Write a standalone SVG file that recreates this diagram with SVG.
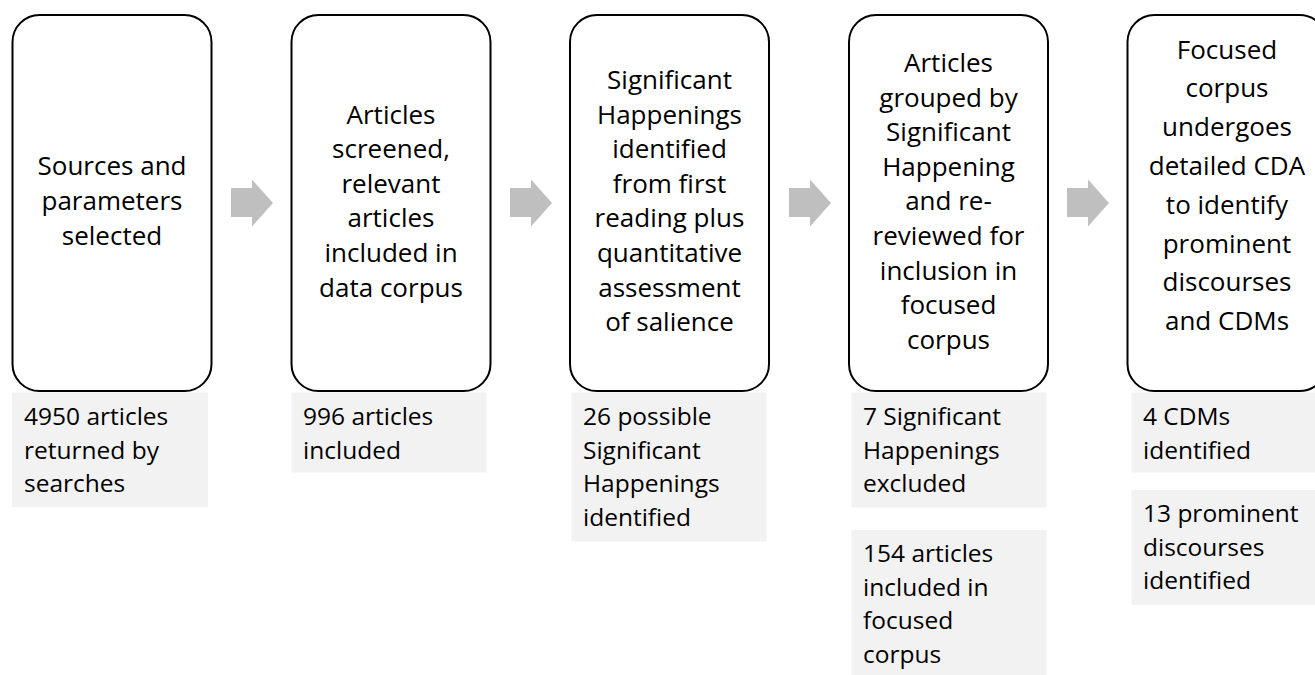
<svg xmlns="http://www.w3.org/2000/svg" width="1315" height="675" viewBox="0 0 1315 675">
<style>
  .box { fill: #ffffff; stroke: #000000; stroke-width: 2; }
  .note { fill: #f2f2f2; stroke: none; }
  .bt { font-family: "Open Sans", "Noto Sans", sans-serif; font-size: 26px; fill: #000; text-anchor: middle; }
  .nt { font-family: "Open Sans", "Noto Sans", sans-serif; font-size: 24.5px; fill: #000; }
  .arrow { fill: #bfbfbf; stroke: none; }
</style>
<rect x="0" y="0" width="1315" height="675" fill="#ffffff"/>

<g id="notes">
  <g id="note1">
    <rect class="note" x="12" y="392.5" width="196" height="114.5"/>
    <text class="nt" x="24" y="425"><tspan x="24">4950 articles</tspan><tspan x="24" dy="33.7">returned by</tspan><tspan x="24" dy="33.7">searches</tspan></text>
  </g>
  <g id="note2">
    <rect class="note" x="291.5" y="392.5" width="195" height="80"/>
    <text class="nt" x="303" y="425"><tspan x="303">996 articles</tspan><tspan x="303" dy="33.7">included</tspan></text>
  </g>
  <g id="note3">
    <rect class="note" x="571.5" y="392.5" width="195" height="149"/>
    <text class="nt" x="583" y="425"><tspan x="583">26 possible</tspan><tspan x="583" dy="33.7">Significant</tspan><tspan x="583" dy="33.7">Happenings</tspan><tspan x="583" dy="33.7">identified</tspan></text>
  </g>
  <g id="note4a">
    <rect class="note" x="851.5" y="392.5" width="195" height="115"/>
    <text class="nt" x="863" y="425"><tspan x="863">7 Significant</tspan><tspan x="863" dy="33.7">Happenings</tspan><tspan x="863" dy="33.7">excluded</tspan></text>
  </g>
  <g id="note4b">
    <rect class="note" x="851.5" y="530" width="195" height="150"/>
    <text class="nt" x="863" y="562"><tspan x="863">154 articles</tspan><tspan x="863" dy="33.7">included in</tspan><tspan x="863" dy="33.7">focused</tspan><tspan x="863" dy="33.7">corpus</tspan></text>
  </g>
  <g id="note5a">
    <rect class="note" x="1131.5" y="392.5" width="195" height="80"/>
    <text class="nt" x="1143" y="425"><tspan x="1143">4 CDMs</tspan><tspan x="1143" dy="33.7">identified</tspan></text>
  </g>
  <g id="note5b">
    <rect class="note" x="1131.5" y="490" width="195" height="115"/>
    <text class="nt" x="1143" y="522"><tspan x="1143">13 prominent</tspan><tspan x="1143" dy="33.7">discourses</tspan><tspan x="1143" dy="33.7">identified</tspan></text>
  </g>
</g>

<g id="node1">
  <rect class="box" x="12.5" y="15" width="199" height="376" rx="27" ry="27"/>
  <text class="bt" y="175.4"><tspan x="112" >Sources and</tspan><tspan x="112" dy="34.6">parameters</tspan><tspan x="112" dy="34.6">selected</tspan></text>
</g>
<g id="node2">
  <rect class="box" x="291.5" y="15" width="199" height="376" rx="27" ry="27"/>
  <text class="bt" y="123.5"><tspan x="391">Articles</tspan><tspan x="391" dy="34.6">screened,</tspan><tspan x="391" dy="34.6">relevant</tspan><tspan x="391" dy="34.6">articles</tspan><tspan x="391" dy="34.6">included in</tspan><tspan x="391" dy="34.6">data corpus</tspan></text>
</g>
<g id="node3">
  <rect class="box" x="570" y="15" width="199" height="376" rx="27" ry="27"/>
  <text class="bt" y="89"><tspan x="669.5">Significant</tspan><tspan x="669.5" dy="34.6">Happenings</tspan><tspan x="669.5" dy="34.6">identified</tspan><tspan x="669.5" dy="34.6">from first</tspan><tspan x="669.5" dy="34.6">reading plus</tspan><tspan x="669.5" dy="34.6">quantitative</tspan><tspan x="669.5" dy="34.6">assessment</tspan><tspan x="669.5" dy="34.6">of salience</tspan></text>
</g>
<g id="node4">
  <rect class="box" x="849" y="15" width="199" height="376" rx="27" ry="27"/>
  <text class="bt" y="72"><tspan x="948.5">Articles</tspan><tspan x="948.5" dy="34.6">grouped by</tspan><tspan x="948.5" dy="34.6">Significant</tspan><tspan x="948.5" dy="34.6">Happening</tspan><tspan x="948.5" dy="34.6">and re-</tspan><tspan x="948.5" dy="34.6">reviewed for</tspan><tspan x="948.5" dy="34.6">inclusion in</tspan><tspan x="948.5" dy="34.6">focused</tspan><tspan x="948.5" dy="34.6">corpus</tspan></text>
</g>
<g id="node5">
  <rect class="box" x="1127.5" y="15" width="199" height="376" rx="27" ry="27"/>
  <text class="bt" y="58.5"><tspan x="1227">Focused</tspan><tspan x="1227" dy="38.8">corpus</tspan><tspan x="1227" dy="38.8">undergoes</tspan><tspan x="1227" dy="38.8">detailed CDA</tspan><tspan x="1227" dy="38.8">to identify</tspan><tspan x="1227" dy="38.8">prominent</tspan><tspan x="1227" dy="38.8">discourses</tspan><tspan x="1227" dy="38.8">and CDMs</tspan></text>
</g>

<g id="connectors">
  <polygon class="arrow" points="231,188 252,188 252,179.5 273,203 252,226.5 252,217 231,217"/>
  <polygon class="arrow" points="510,188 531,188 531,179.5 552,203 531,226.5 531,217 510,217"/>
  <polygon class="arrow" points="789,188 810,188 810,179.5 831,203 810,226.5 810,217 789,217"/>
  <polygon class="arrow" points="1067,188 1088,188 1088,179.5 1109,203 1088,226.5 1088,217 1067,217"/>
</g>
</svg>
